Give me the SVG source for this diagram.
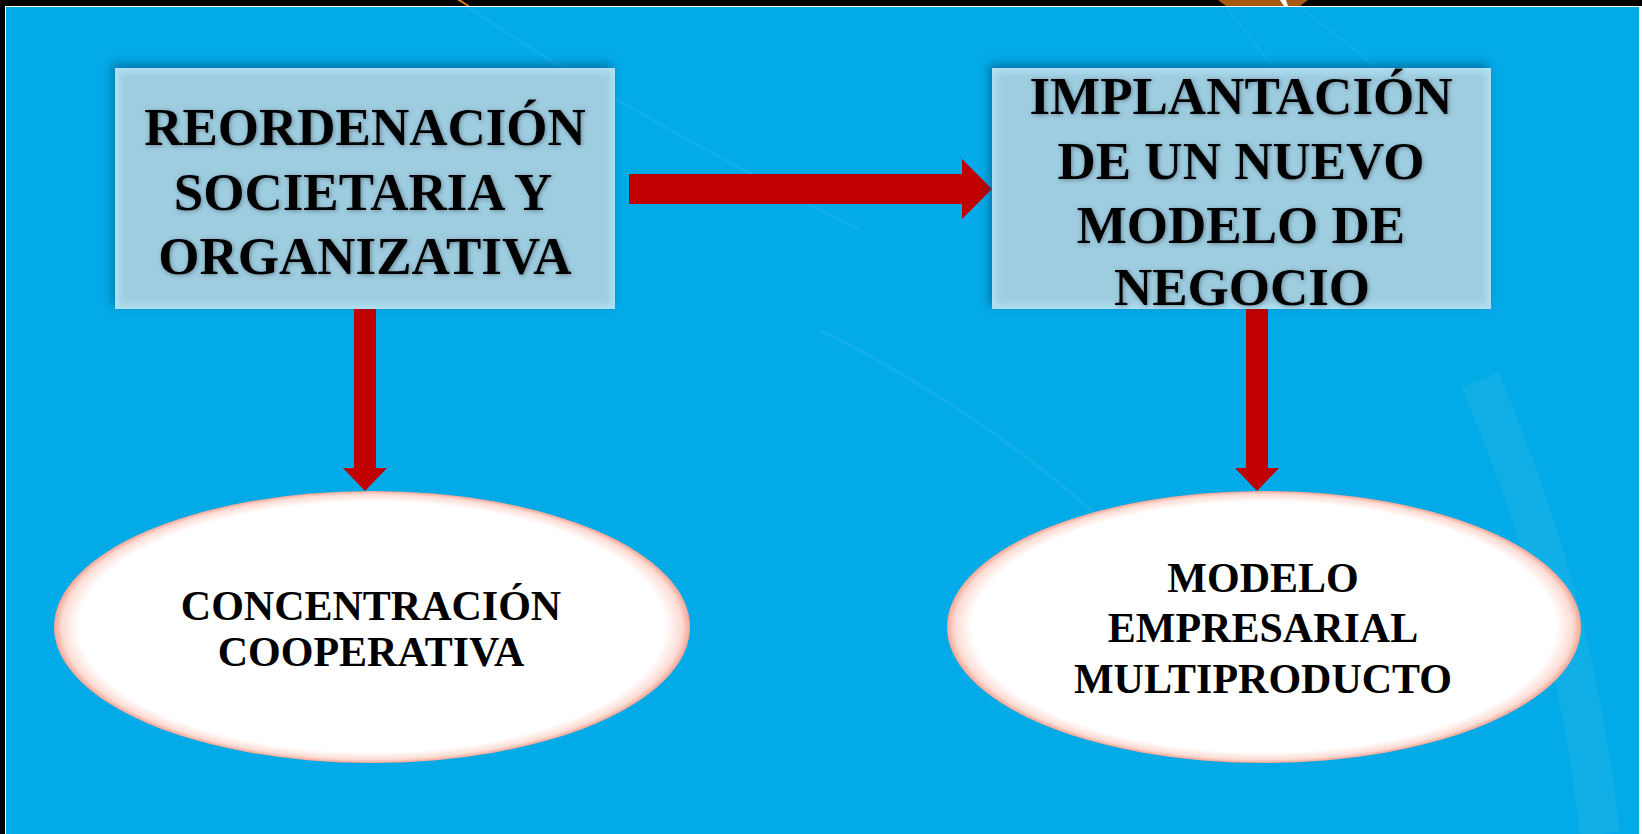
<svg xmlns="http://www.w3.org/2000/svg" width="1642" height="834" viewBox="0 0 1642 834">
  <style>
    .box { fill: #9ECDE0; }
    .boxtxt { font-family: "Liberation Serif", "Times New Roman", serif; font-weight: bold; font-size: 53px; fill: #000; text-anchor: middle; }
    .elltxt { font-family: "Liberation Serif", "Times New Roman", serif; font-weight: bold; font-size: 42px; fill: #000; text-anchor: middle; }
    .arrow { fill: #C00000; }
    .swoosh { fill: none; stroke: #FFFFFF; stroke-opacity: 0.06; }
  </style>
  <defs>
    <filter id="boxShadow" x="-10%" y="-15%" width="120%" height="130%">
      <feGaussianBlur in="SourceAlpha" stdDeviation="5"/>
      <feOffset dx="-3" dy="-4" result="b"/>
      <feFlood flood-color="#004A78" flood-opacity="0.55"/>
      <feComposite in2="b" operator="in"/>
      <feMerge><feMergeNode/><feMergeNode in="SourceGraphic"/></feMerge>
    </filter>
    <filter id="txtShadow" x="-5%" y="-20%" width="110%" height="140%">
      <feGaussianBlur in="SourceAlpha" stdDeviation="2.2"/>
      <feOffset dx="1" dy="1" result="b"/>
      <feFlood flood-color="#3A4A55" flood-opacity="0.55"/>
      <feComposite in2="b" operator="in"/>
      <feMerge><feMergeNode/><feMergeNode in="SourceGraphic"/></feMerge>
    </filter>
    <filter id="rimBlur"><feGaussianBlur stdDeviation="3"/></filter>
    <radialGradient id="ellFill" cx="50%" cy="50%" r="50%">
      <stop offset="0" stop-color="#FFFFFF"/>
      <stop offset="0.92" stop-color="#FFFFFF"/>
      <stop offset="0.975" stop-color="#FCDCD4"/>
      <stop offset="1" stop-color="#F5A595"/>
    </radialGradient>
    <clipPath id="clipBox1"><rect x="115" y="68" width="500" height="241"/></clipPath>
    <clipPath id="clipBox2"><rect x="992" y="68" width="499" height="241"/></clipPath>
  </defs>

  <!-- background -->
  <rect x="0" y="0" width="1642" height="834" fill="#000000"/>
  <rect x="5" y="6" width="1637" height="828" fill="#FFFFFF"/>
  <rect x="6" y="7" width="1633" height="827" fill="#02AAE7"/>
  <polygon points="457,0 461,0 470,6 467,6" fill="#E07A20"/>
  <polygon points="1218,0 1308,0 1300,6 1226,6" fill="#A85A10"/>
  <polygon points="1280,0 1286,0 1288,6 1284,6" fill="#FFFFFF"/>
  <g id="swooshes">
    <path class="swoosh" stroke-width="3" d="M468,7 C560,70 700,150 860,230"/>
    <path class="swoosh" stroke-width="2" d="M1226,7 C1245,30 1260,50 1275,70"/>
    <path class="swoosh" stroke-width="2" d="M1300,7 C1330,30 1355,50 1380,70"/>
    <path class="swoosh" stroke-width="4" stroke-opacity="0.04" d="M820,330 C1000,420 1150,540 1260,700"/>
    <path class="swoosh" stroke-width="40" stroke-opacity="0.025" d="M1480,380 C1540,520 1580,660 1600,834"/>
  </g>

  <g id="connectors">
    <!-- right arrow -->
    <polygon class="arrow" points="629,174 962,174 962,159 992,189 962,219 962,204 629,204"/>
    <!-- down arrow left -->
    <polygon class="arrow" points="354,309 376,309 376,468 387,468 365,491 343,468 354,468"/>
    <!-- down arrow right -->
    <polygon class="arrow" points="1246,309 1268,309 1268,468 1279,468 1257,491 1235,468 1246,468"/>
  </g>

  <g id="node-reordenacion">
    <rect class="box" x="115" y="68" width="500" height="241" filter="url(#boxShadow)"/>
    <g clip-path="url(#clipBox1)">
      <rect x="115" y="68" width="500" height="241" fill="none" stroke="#B2E2F4" stroke-width="8" filter="url(#rimBlur)"/>
    </g>
    <g filter="url(#txtShadow)">
      <text class="boxtxt" x="365" y="145">REORDENACIÓN</text>
      <text class="boxtxt" x="363" y="210">SOCIETARIA Y</text>
      <text class="boxtxt" x="365" y="274">ORGANIZATIVA</text>
    </g>
  </g>

  <g id="node-implantacion">
    <rect class="box" x="992" y="68" width="499" height="241" filter="url(#boxShadow)"/>
    <g clip-path="url(#clipBox2)">
      <rect x="992" y="68" width="499" height="241" fill="none" stroke="#B2E2F4" stroke-width="8" filter="url(#rimBlur)"/>
    </g>
    <g filter="url(#txtShadow)">
      <text class="boxtxt" x="1241" y="114">IMPLANTACIÓN</text>
      <text class="boxtxt" x="1241" y="179">DE UN NUEVO</text>
      <text class="boxtxt" x="1241" y="243">MODELO DE</text>
      <text class="boxtxt" x="1242" y="305">NEGOCIO</text>
    </g>
  </g>

  <g id="node-concentracion">
    <ellipse cx="372" cy="627" rx="318" ry="136" fill="url(#ellFill)"/>
    <text class="elltxt" x="371" y="620">CONCENTRACIÓN</text>
    <text class="elltxt" x="371" y="666">COOPERATIVA</text>
  </g>

  <g id="node-modelo">
    <ellipse cx="1264" cy="627" rx="317" ry="136" fill="url(#ellFill)"/>
    <text class="elltxt" x="1263" y="592">MODELO</text>
    <text class="elltxt" x="1263" y="642">EMPRESARIAL</text>
    <text class="elltxt" x="1263" y="693">MULTIPRODUCTO</text>
  </g>
</svg>
